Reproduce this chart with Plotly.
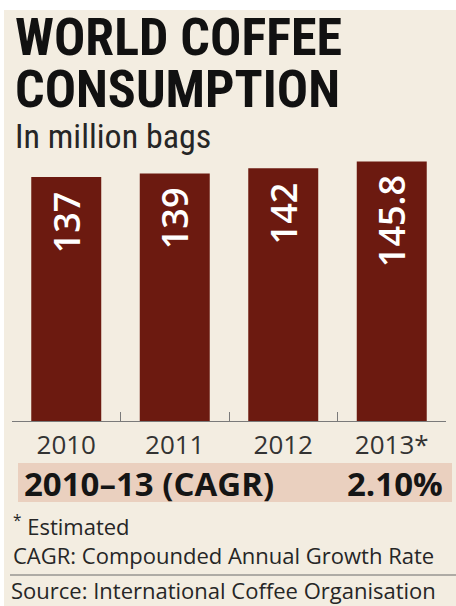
import plotly.graph_objects as go

# ---- data ----
years = ["2010", "2011", "2012", "2013*"]
consumption = [137, 139, 142, 145.8]
labels = ["137", "139", "142", "145.8"]
cagr_label = "2010–13 (CAGR)"
cagr_value = "2.10%"
title_lines = ["WORLD COFFEE", "CONSUMPTION"]
subtitle = "In million bags"
notes = ["<sup>*</sup> Estimated", "CAGR: Compounded Annual Growth Rate"]
source = "Source: International Coffee Organisation"

# ---- layout geometry (pixels) ----
W, H = 456, 606
L, R, T, B = 12, 10, 150, 185
PW, PH = W - L - R, H - T - B


def px(x):
    return (x - L) / PW


def py(y):
    return (H - B - y) / PH


BG = "#f3ede1"
BAR = "#6c1a10"
TXT = "#262626"
COND = "Roboto Condensed, Liberation Sans Narrow, DejaVu Sans Condensed, sans-serif"
SANS = "Open Sans, sans-serif"

fig = go.Figure()
fig.add_trace(go.Bar(
    x=years, y=consumption, marker=dict(color=BAR, line=dict(width=0)),
    hoverinfo="skip",
))

shapes = [
    dict(type="rect", xref="paper", yref="paper", x0=px(4), x1=px(W + 5), y0=py(10), y1=py(H + 5),
         fillcolor=BG, line=dict(width=0), layer="below"),
    dict(type="rect", xref="paper", yref="paper", x0=px(18), x1=px(452), y0=py(463), y1=py(502),
         fillcolor="#ead0bf", line=dict(width=0), layer="below"),
    dict(type="line", xref="paper", yref="paper", x0=px(10), x1=px(W), y0=py(575), y1=py(575),
         line=dict(color="#6a6a6a", width=1.2)),
]

ann = []
ann.append(dict(text="over 2012.", x=px(0), y=py(6), xanchor="left", yanchor="bottom",
                font=dict(family="Liberation Sans, sans-serif", size=24, color="#111", weight="bold")))
for i, t in enumerate(title_lines):
    ann.append(dict(text=t, x=px(13), y=py(37 + 53 * i), xanchor="left", yanchor="middle",
                    font=dict(family=COND, size=52, color="#111", weight="bold")))
ann.append(dict(text=subtitle, x=px(13), y=py(136), xanchor="left", yanchor="middle",
                font=dict(family=COND, size=34, color=TXT)))
ann.append(dict(text=cagr_label, x=px(22), y=py(483), xanchor="left", yanchor="middle",
                font=dict(family=SANS, size=33, color="#151515", weight="bold")))
ann.append(dict(text=cagr_value, x=px(445), y=py(483), xanchor="right", yanchor="middle",
                font=dict(family=SANS, size=33, color="#151515", weight="bold")))
for i, t in enumerate(notes):
    ann.append(dict(text=t, x=px(11), y=py(525 + 30 * i), xanchor="left", yanchor="middle",
                    font=dict(family=SANS, size=22, color=TXT)))
ann.append(dict(text=source, x=px(9), y=py(590), xanchor="left", yanchor="middle",
                font=dict(family=SANS, size=22, color=TXT)))
for a in ann:
    a.update(xref="paper", yref="paper", showarrow=False)

# value labels inside the bars, rotated, anchored at the bar top (x = category index)
for i, (v, lab) in enumerate(zip(consumption, labels)):
    ann.append(dict(text=lab, x=i, y=v, xref="x", yref="y", showarrow=False, textangle=-90,
                    xanchor="center", yanchor="top", yshift=-12,
                    font=dict(family=SANS, size=36, color="white", weight=600)))

fig.update_layout(
    width=W, height=H, margin=dict(l=L, r=R, t=T, b=B, pad=0),
    paper_bgcolor="white", plot_bgcolor="rgba(0,0,0,0)",
    showlegend=False, bargap=0.355,
    shapes=shapes, annotations=ann,
    xaxis=dict(type="category", range=[-0.5, 3.5], showline=True, linecolor="#7a7a7a", linewidth=1.2,
               ticks="inside", tickson="boundaries", ticklen=9, tickcolor="#7a7a7a", tickwidth=1.2,
               tickfont=dict(family=SANS, size=26, color="#333"), ticklabelstandoff=1,
               showgrid=False, zeroline=False, fixedrange=True),
    yaxis=dict(range=[0, 152.2], visible=False, showgrid=False, zeroline=False, fixedrange=True),
)

fig.write_html("out.html")
